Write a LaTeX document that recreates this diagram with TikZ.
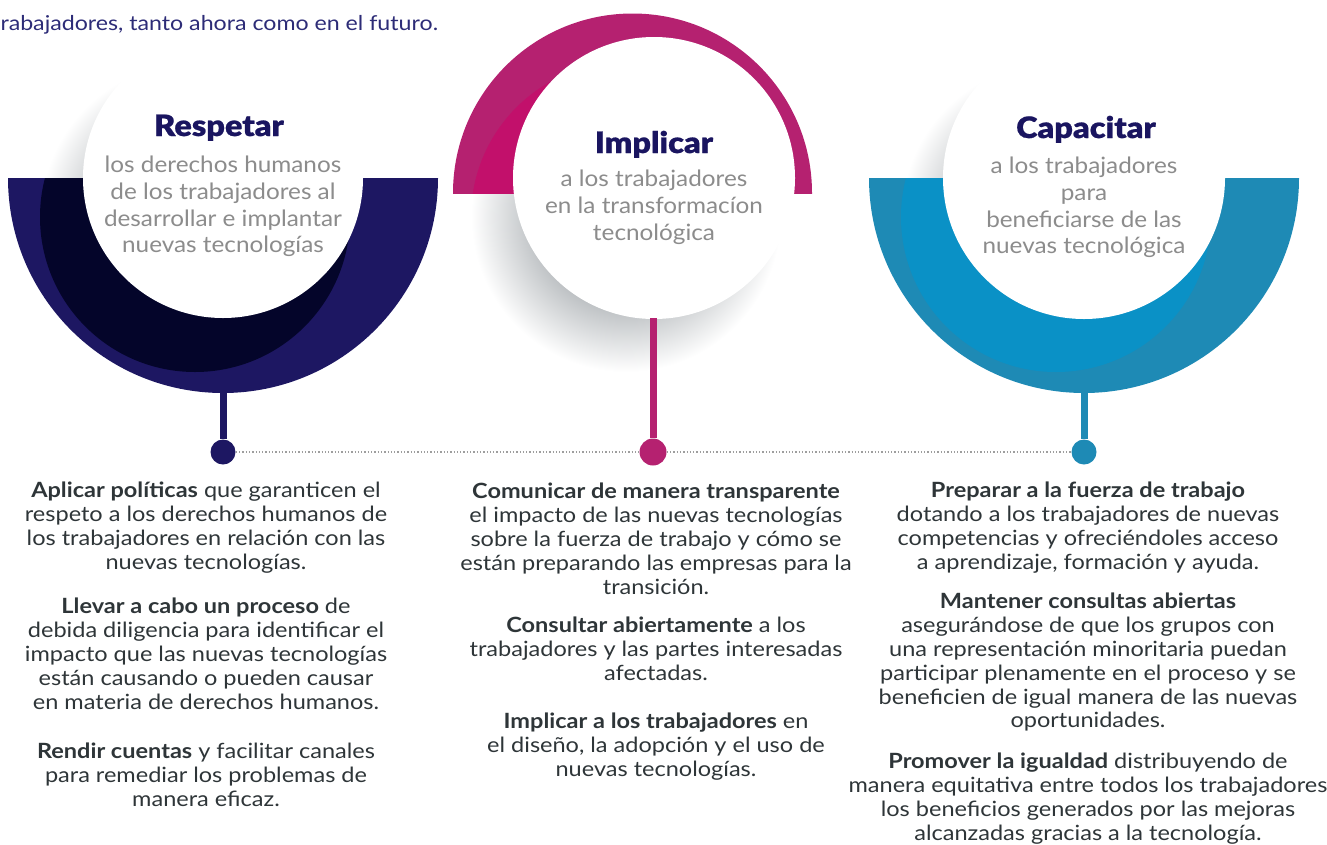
\documentclass[tikz,border=0pt]{standalone}
\usepackage{fontspec}
\setmainfont{Lato}[FakeStretch=1.12]
\newfontfamily\subfont{Lato}[FakeStretch=1.08]
\newfontfamily\topfont{Lato}[FakeStretch=1.13]
\newfontfamily\titlefont{Lato Black}[FakeStretch=1.1, FakeBold=0.6]
\definecolor{navy}{HTML}{1D1762}
\definecolor{navydark}{HTML}{04052A}
\definecolor{magenta}{HTML}{B52170}
\definecolor{magbright}{HTML}{C2106B}
\definecolor{bluec}{HTML}{1E8AB5}
\definecolor{bluebright}{HTML}{0A91C6}
\definecolor{subgrey}{HTML}{8C8C8C}
\definecolor{bodytxt}{HTML}{2E3538}
\definecolor{titlenavy}{HTML}{1A1560}
\definecolor{dotgrey}{HTML}{9E9E9E}
\definecolor{shgrey}{HTML}{B8BCBF}
\definecolor{toptxt}{HTML}{2D2C77}
\pgfdeclareradialshading{shfade}{\pgfpoint{0bp}{0bp}}{color(0bp)=(shgrey); color(14bp)=(shgrey); color(25bp)=(white); color(50bp)=(white)}
\tikzset{
  body/.style={align=center, font=\fontsize{21}{23.8}\selectfont, text=bodytxt, inner sep=0pt, anchor=north},
  sub/.style={align=center, font=\subfont\fontsize{22.5}{26.7}\selectfont, text=subgrey, inner sep=0pt, anchor=north},
  ttl/.style={font=\titlefont\fontsize{29.5}{32}\selectfont, text=titlenavy, inner sep=0pt, anchor=base},
  dotnode/.style={circle, inner sep=0pt, minimum size=25pt},
  stemline/.style={line width=7pt},
  dotline/.style={draw=dotgrey, line width=1.3pt, dotted}
}
\begin{document}
\begin{tikzpicture}[x=1pt,y=-1pt]
\useasboundingbox (0,0) rectangle (1327,844);

% top text
\node[anchor=base west, inner sep=0pt, text=toptxt, font=\topfont\fontsize{20.5}{24}\selectfont] (toptext) at (-8,30) {trabajadores, tanto ahora como en el futuro.};

% ---------- left group ----------
\shade[shading=shfade] (195,217) circle[radius=155];
\begin{scope}
  \clip (0,178) rectangle (450,420);
  \fill[navy] (223,178) circle[radius=215];
  \clip (223,178) circle[radius=215];
  \fill[navydark] (195,217) circle[radius=155];
\end{scope}
\fill[white] (223,178) circle[radius=140];

% ---------- middle group ----------
\shade[shading=shfade] (626,217) circle[radius=155];
\begin{scope}
  \clip (440,0) rectangle (830,193);
  \fill[magenta] (632.5,193) circle[radius=179.5];
  \clip (632.5,193) circle[radius=179.5];
  \fill[magbright] (626,217) circle[radius=155];
\end{scope}
\fill[white] (654,178) circle[radius=141];

% ---------- right group ----------
\shade[shading=shfade] (1056,217) circle[radius=155];
\begin{scope}
  \clip (860,178) rectangle (1327,420);
  \fill[bluec] (1084,178) circle[radius=215];
  \clip (1084,178) circle[radius=215];
  \fill[bluebright] (1056,217) circle[radius=155];
\end{scope}
\fill[white] (1084,178) circle[radius=141];

% ---------- dots, stems, dotted line ----------
\node[dotnode, fill=navy] (dotL) at (223,452) {};
\node[dotnode, fill=magenta, minimum size=27pt] (dotM) at (653,452) {};
\node[dotnode, fill=bluec] (dotR) at (1084,452) {};
\coordinate (stemL) at (223,392);
\coordinate (stemM) at (653,318);
\coordinate (stemR) at (1084,392);
\draw[navy, stemline] (stemL) -- (dotL.north);
\draw[magenta, stemline] (stemM) -- (dotM.north);
\draw[bluec, stemline] (stemR) -- (dotR.north);
\draw[dotline] (dotL.east) -- (dotM.west);
\draw[dotline] (dotM.east) -- (dotR.west);

% ---------- circle texts ----------
\node[ttl] (tL) at (219,136) {Respetar};
\node[sub] (sL) at (223,156) {los derechos humanos\\de los trabajadores al\\desarrollar e implantar\\nuevas tecnologías};
\node[ttl] (tM) at (654,153) {Implicar};
\node[sub] (sM) at (654,170) {a los trabajadores\\en la transformacíon\\tecnológica};
\node[ttl] (tR) at (1086,138) {Capacitar};
\node[sub] (sR) at (1084,157) {a los trabajadores\\para\\beneficiarse de las\\nuevas tecnológica};

% ---------- body texts ----------
\node[body] (l1) at (206,482) {\textbf{Aplicar políticas} que garanticen el\\respeto a los derechos humanos de\\los trabajadores en relación con las\\nuevas tecnologías.};
\node[body] (l2) at (206,598) {\textbf{Llevar a cabo un proceso} de\\debida diligencia para identificar el\\impacto que las nuevas tecnologías\\están causando o pueden causar\\en materia de derechos humanos.};
\node[body] (l3) at (206,743) {\textbf{Rendir cuentas} y facilitar canales\\para remediar los problemas de\\manera eficaz.};

\node[body] (m1) at (656,483) {\textbf{Comunicar de manera transparente}\\el impacto de las nuevas tecnologías\\sobre la fuerza de trabajo y cómo se\\están preparando las empresas para la\\transición.};
\node[body] (m2) at (656,617) {\textbf{Consultar abiertamente} a los\\trabajadores y las partes interesadas\\afectadas.};
\node[body] (m3) at (656,713) {\textbf{Implicar a los trabajadores} en\\el diseño, la adopción y el uso de\\nuevas tecnologías.};

\node[body] (r1) at (1088,482) {\textbf{Preparar a la fuerza de trabajo}\\dotando a los trabajadores de nuevas\\competencias y ofreciéndoles acceso\\a aprendizaje, formación y ayuda.};
\node[body] (r2) at (1088,593) {\textbf{Mantener consultas abiertas}\\asegurándose de que los grupos con\\una representación minoritaria puedan\\participar plenamente en el proceso y se\\beneficien de igual manera de las nuevas\\oportunidades.};
\node[body] (r3) at (1088,753) {\textbf{Promover la igualdad} distribuyendo de\\manera equitativa entre todos los trabajadores\\los beneficios generados por las mejoras\\alcanzadas gracias a la tecnología.};
\end{tikzpicture}
\end{document}
